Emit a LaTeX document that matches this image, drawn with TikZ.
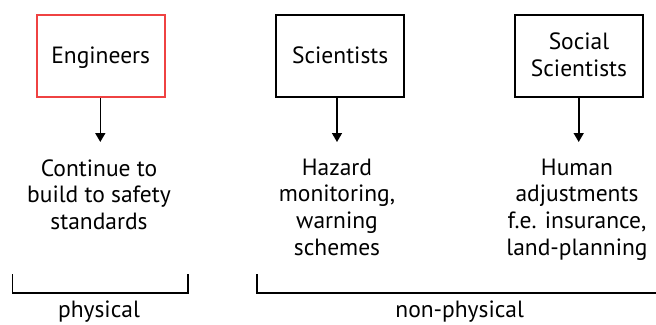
\documentclass[tikz,border=0pt]{standalone}
\usepackage{fontspec}
\setmainfont{PT Sans}
\usetikzlibrary{arrows.meta}
\definecolor{boxred}{RGB}{239,66,66}
\begin{document}
\begin{tikzpicture}[x=1pt,y=-1pt,
  font=\fontsize{23.5}{26.7}\selectfont,
  actor/.style={draw, line width=2pt, minimum width=128pt, minimum height=82pt, align=center, inner sep=0pt, text height=16.5pt, text depth=0pt},
  result/.style={align=center, anchor=base, inner sep=0pt},
  arr/.style={line width=1.6pt, -{Triangle[width=10pt,length=9pt]}},
  brace/.style={line width=1.4pt},
  tag/.style={anchor=base, inner sep=0pt}]
  \useasboundingbox (0,0) rectangle (656,324);

  % actor boxes
  \node[actor, draw=boxred] (eng) at (100.7,55.5) {Engineers};
  \node[actor] (sci) at (340.2,55.5) {Scientists};
  \node[actor, text height=41pt] (soc) at (579,55.5) {Social\\Scientists};

  % responses (anchored at the baseline of the last line)
  \node[result] (engres) at (99,229.4) {Continue to\\build to safety\\standards};
  \node[result] (scires) at (337,255.1) {Hazard\\monitoring,\\warning\\schemes};
  \node[result] (socres) at (577,255.1) {Human\\adjustments\\f.e. insurance,\\land-planning};

  % arrow tips
  \coordinate (engtip) at (100.3,142);
  \coordinate (scitip) at (337,142);
  \coordinate (soctip) at (578.7,142);
  \draw[arr] (eng.south -| engtip) -- (engtip);
  \draw[arr] (sci.south -| scitip) -- (scitip);
  \draw[arr] (soc.south -| soctip) -- (soctip);

  % grouping brackets
  \coordinate (pl) at (12.7,274);
  \coordinate (pr) at (188,274);
  \coordinate (nl) at (257,274);
  \coordinate (nr) at (656,293);
  \draw[brace] (pl) -- ++(0,19) -| (pr);
  \draw[brace] (nl) -- ++(0,19) -- (nr);
  \node[tag] (phys) at (99,317) {physical};
  \node[tag] (nonphys) at (459.7,317) {non-physical};
\end{tikzpicture}
\end{document}
